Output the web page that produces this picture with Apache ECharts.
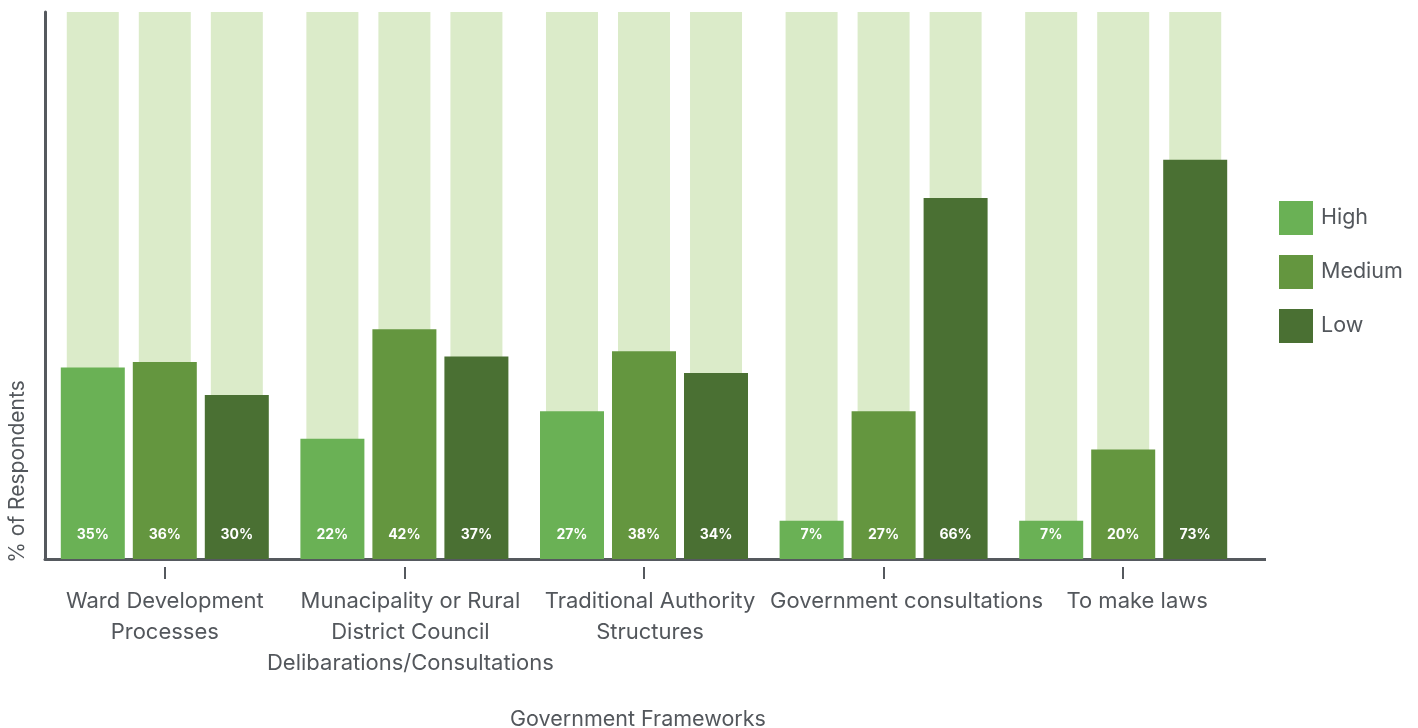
<!DOCTYPE html>
<html>
<head>
<meta charset="utf-8">
<script src="https://cdn.jsdelivr.net/npm/echarts@6/dist/echarts.min.js"></script>
<style>
  html, body { margin: 0; padding: 0; background: #ffffff; }
  #chart { width: 1418px; height: 728px; }
</style>
</head>
<body>
<div id="chart"></div>
<script>
// Government frameworks and share of respondents by engagement level
const categories = [
  'Ward Development\nProcesses',
  'Munacipality or Rural\nDistrict Council\nDelibarations/Consultations',
  'Traditional Authority\nStructures',
  'Government consultations',
  'To make laws'
];
const high = [35, 22, 27, 7, 7];
const medium = [36, 42, 38, 27, 20];
const low = [30, 37, 34, 66, 73];
const fullScale = [100, 100, 100, 100, 100];

const FONT = 'Inter, "Open Sans", sans-serif';
const TEXT = '#53575c';
const AXIS = '#55595e';
const BG = '#dbebc9';
const COLORS = { High: '#6ab155', Medium: '#64963f', Low: '#4a7033' };
// horizontal nudge (px) of each category label relative to its group centre
const LABEL_SHIFT = [0, 6, 6, 23, 14];

const chart = echarts.init(document.getElementById('chart'), null, { renderer: 'canvas' });

function valueLabel() {
  return {
    show: true,
    position: 'insideBottom',
    distance: 17,
    formatter: '{c}%',
    color: '#ffffff',
    fontFamily: FONT,
    fontWeight: 'bold',
    fontSize: 14
  };
}

function mainSeries(name, data) {
  return {
    name: name,
    type: 'bar',
    xAxisIndex: 0,
    data: data,
    barWidth: 64,
    barGap: '12.5%',
    itemStyle: { color: COLORS[name] },
    label: valueLabel(),
    z: 3
  };
}

function backSeries(i) {
  return {
    name: 'bg' + i,
    type: 'bar',
    xAxisIndex: 1,
    data: fullScale,
    barWidth: 52,
    barGap: '38.5%',
    itemStyle: { color: BG },
    silent: true,
    z: 1
  };
}

// one rich style per category so each label can carry its own nudge
const labelRich = {};
LABEL_SHIFT.forEach(function (dx, i) {
  labelRich['c' + i] = {
    color: TEXT,
    fontSize: 22,
    fontFamily: FONT,
    lineHeight: 31,
    padding: dx >= 0 ? [0, 0, 0, 2 * dx] : [0, -2 * dx, 0, 0]
  };
});

const option = {
  backgroundColor: '#ffffff',
  animation: false,
  textStyle: { fontFamily: FONT },
  grid: { left: 45, top: 12, width: 1198, bottom: 169, containLabel: false, outerBoundsMode: 'none' },
  legend: {
    data: ['High', 'Medium', 'Low'],
    orient: 'vertical',
    left: 1274,
    top: 196,
    itemWidth: 34,
    itemHeight: 34,
    itemGap: 20,
    icon: 'rect',
    textStyle: { color: TEXT, fontSize: 21.5, fontFamily: FONT, padding: [0, 0, 0, 3] },
    selectedMode: false
  },
  xAxis: [
    {
      type: 'category',
      data: categories,
      axisLine: { show: true, lineStyle: { color: AXIS, width: 3 } },
      axisTick: { show: false },
      axisLabel: {
        color: TEXT,
        fontSize: 22,
        fontFamily: FONT,
        lineHeight: 31,
        margin: 27,
        interval: 0,
        formatter: function (value, index) {
          return value.split('\n').map(function (line) {
            return '{c' + index + '|' + line + '}';
          }).join('\n');
        },
        rich: labelRich
      },
      name: 'Government Frameworks',
      nameLocation: 'middle',
      nameGap: 150,
      nameTextStyle: { color: TEXT, fontSize: 21.5, fontFamily: FONT, padding: [0, 12, 0, 0] }
    },
    {
      type: 'category',
      data: categories,
      position: 'bottom',
      offset: 8,
      axisLine: { show: false },
      axisTick: { show: true, alignWithLabel: true, length: 12, lineStyle: { color: AXIS, width: 2 } },
      axisLabel: { show: false }
    }
  ],
  yAxis: {
    type: 'value',
    min: 0,
    max: 100,
    splitLine: { show: false },
    axisLabel: { show: false },
    axisTick: { show: false },
    axisLine: { show: true, lineStyle: { color: AXIS, width: 3 } },
    name: '% of Respondents',
    nameLocation: 'middle',
    nameRotate: 90,
    nameGap: 17,
    nameTextStyle: { color: TEXT, fontSize: 21, fontFamily: FONT, padding: [0, 372, 0, 0] }
  },
  series: [
    backSeries(0), backSeries(1), backSeries(2),
    mainSeries('High', high),
    mainSeries('Medium', medium),
    mainSeries('Low', low)
  ]
};

chart.setOption(option);

// extend the baseline from the grid's right edge to the plot frame's right edge
const xs = categories.map(function (c) { return chart.convertToPixel({ xAxisIndex: 0 }, c); });
const band = xs[1] - xs[0];
const gridRight = xs[xs.length - 1] + band / 2;
const baseY = Math.round(chart.convertToPixel({ yAxisIndex: 0 }, 0));
chart.setOption({
  graphic: [{
    type: 'line',
    shape: { x1: gridRight - 1, y1: baseY + 0.5, x2: 1266, y2: baseY + 0.5 },
    style: { stroke: AXIS, lineWidth: 3 },
    silent: true,
    z: 0
  }]
});
</script>
</body>
</html>
